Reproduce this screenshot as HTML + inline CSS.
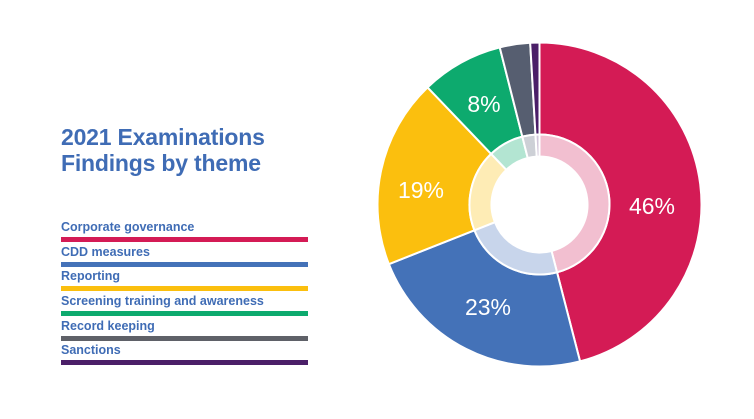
<!DOCTYPE html>
<html><head><style>
body{margin:0;width:754px;height:419px;background:#fff;overflow:hidden;font-family:"Liberation Sans",sans-serif;position:relative}
.t{position:absolute;left:61px;top:124px;color:#3f6cb5;font-size:23px;line-height:26px;font-weight:bold;letter-spacing:-0.2px}
.l{position:absolute;left:61px;color:#3f6cb5;font-size:12.5px;font-weight:bold}
.b{position:absolute;left:61px;width:247px;height:5px}
</style></head><body>
<div class="t">2021 Examinations<br>Findings by theme</div>
<div class="l" style="top:220px">Corporate governance</div><div class="b" style="top:237px;background:#d41b55"></div>
<div class="l" style="top:245px">CDD measures</div><div class="b" style="top:262px;background:#4472b8"></div>
<div class="l" style="top:269px">Reporting</div><div class="b" style="top:286px;background:#fbbf0e"></div>
<div class="l" style="top:294px">Screening training and awareness</div><div class="b" style="top:311px;background:#0daa6e"></div>
<div class="l" style="top:319px">Record keeping</div><div class="b" style="top:336px;background:#5f6168"></div>
<div class="l" style="top:343px">Sanctions</div><div class="b" style="top:360px;background:#4b1f68"></div>
<svg id="s" width="754" height="419" style="position:absolute;left:0;top:0"></svg>
<script>
var cx=539.5,cy=204.5,R=162,r1=70,r0=48;
var b=[0,165.5,248.4,316.3,345.8,356.7,360];
var c=["#d41b55","#4472b8","#fbbf0e","#0daa6e","#565e70","#4b1f68"];
var lc=["#f2bfd0","#c8d5eb","#feecb5","#b3e5d2","#cdd0d6","#d2c7da"];
function p(a,rr){a=(a-90)*Math.PI/180;return [cx+rr*Math.cos(a),cy+rr*Math.sin(a)];}
function arc(a0,a1,ro,ri){var l=a1-a0>180?1:0,A=p(a0,ro),B=p(a1,ro),C=p(a1,ri),D=p(a0,ri);
return "M"+A+"A"+ro+","+ro+" 0 "+l+" 1 "+B+"L"+C+"A"+ri+","+ri+" 0 "+l+" 0 "+D+"Z";}
var h="";
for(var i=0;i<6;i++){
h+='<path d="'+arc(b[i],b[i+1],R,r1)+'" fill="'+c[i]+'" stroke="#fff" stroke-width="2"/>';
h+='<path d="'+arc(b[i],b[i+1],r1,r0)+'" fill="'+lc[i]+'" stroke="#fff" stroke-width="2"/>';}
var t=[[652,214,"46%"],[488,315,"23%"],[421,198,"19%"],[484,112,"8%"]];
t.forEach(function(x){h+='<text x="'+x[0]+'" y="'+x[1]+'" fill="#fff" font-size="23" font-family="Liberation Sans,sans-serif" text-anchor="middle">'+x[2]+'</text>';});
document.getElementById("s").innerHTML=h;
</script>
</body></html>
